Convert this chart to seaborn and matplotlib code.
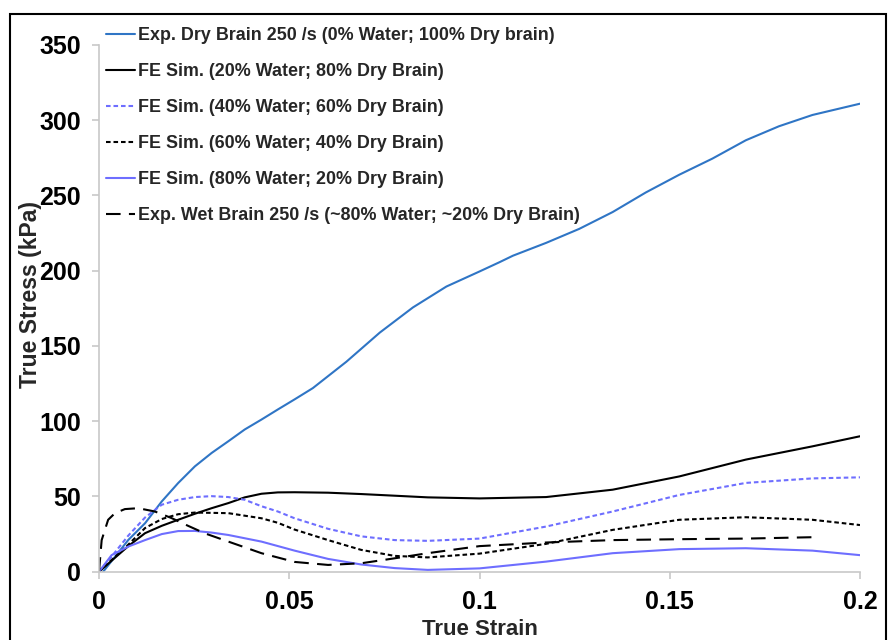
import matplotlib
matplotlib.use("Agg")
import matplotlib.pyplot as plt
import seaborn as sns
import pandas as pd
from matplotlib.patches import Rectangle

# Stress-strain curves (true strain, true stress in kPa)
dry_exp_strain = [0.0011, 0.0077, 0.0121, 0.0165, 0.0208, 0.0252, 0.0296, 0.034, 0.0383,
                  0.0427, 0.047, 0.0514, 0.0562, 0.065, 0.0738, 0.0825, 0.0913, 0.1,
                  0.1052, 0.1088, 0.1175, 0.1262, 0.135, 0.1437, 0.1525, 0.1612, 0.17,
                  0.1787, 0.1875, 0.2]
dry_exp_stress = [0, 21.1, 32.2, 46.7, 58.9, 70, 78.9, 86.7, 94.5,
                  101.1, 107.8, 114.5, 122, 139.5, 158.9, 175.6, 189.5, 199.5,
                  205.6, 210, 218.5, 227.8, 239, 252, 263.8, 274.5, 286.7,
                  296, 303.5, 311]

sim20_strain = [0, 0.0077, 0.0121, 0.0165, 0.0208, 0.0252, 0.0296, 0.034, 0.0383, 0.0427,
                0.047, 0.0514, 0.0602, 0.0689, 0.0777, 0.0864, 0.1, 0.1175, 0.135,
                0.1525, 0.17, 0.1875, 0.2]
sim20_stress = [0, 17, 25.6, 30.5, 34.5, 38.5, 42.2, 45.6, 49.4, 51.8,
                52.7, 52.8, 52.5, 51.6, 50.5, 49.4, 48.7, 49.6, 54.5,
                63.3, 74.5, 83.3, 90]

sim40_strain = [0, 0.0033, 0.0077, 0.0121, 0.0165, 0.0208, 0.0252, 0.0296, 0.034, 0.0383,
                0.0427, 0.047, 0.0514, 0.0602, 0.0689, 0.0777, 0.0864, 0.1, 0.1175,
                0.135, 0.1525, 0.17, 0.1875, 0.2]
sim40_stress = [0, 10, 24, 36, 44.5, 47.8, 49.6, 50.2, 49.6, 47.8,
                43.5, 40, 35.5, 28.5, 23.5, 21, 20.5, 22, 30,
                40, 51, 59, 62, 62.7]

sim60_strain = [0, 0.0077, 0.0121, 0.0165, 0.0208, 0.0252, 0.034, 0.0427, 0.047, 0.0514,
                0.0602, 0.0689, 0.0777, 0.0864, 0.1, 0.1175, 0.135, 0.1525, 0.17,
                0.1875, 0.2]
sim60_stress = [0, 18, 29, 35, 38.2, 39.3, 38.9, 35.5, 32.5, 28,
                21, 14.5, 10.5, 9.5, 12, 18.5, 27.8, 34.5, 36.2,
                34.5, 31]

sim80_strain = [0, 0.0033, 0.0077, 0.0121, 0.0165, 0.0208, 0.0252, 0.0296, 0.034, 0.0427,
                0.0514, 0.0602, 0.0689, 0.0777, 0.0864, 0.1, 0.1175, 0.135, 0.1525,
                0.17, 0.1875, 0.2]
sim80_stress = [0, 11, 16.7, 21, 25, 27, 27.1, 26, 24.4, 20,
                14, 8.5, 4.8, 2.4, 1.2, 2.2, 6.7, 12.3, 15,
                15.6, 14, 11]

wet_exp_strain = [0, 0.0007, 0.0024, 0.0042, 0.0068, 0.0103, 0.0147, 0.0191, 0.0234,
                  0.0278, 0.034, 0.0427, 0.0514, 0.0602, 0.0689, 0.0777, 0.0864, 0.1,
                  0.1175, 0.135, 0.1525, 0.17, 0.189]
wet_exp_stress = [0, 21, 34.5, 38.9, 41.6, 42.2, 40, 35.6, 30.5,
                  25.5, 20, 12.3, 6.5, 4.5, 5.6, 8.9, 12.3, 17,
                  19.4, 21, 21.6, 22, 23]

series_labels = [
    "Exp. Dry Brain 250 /s (0% Water; 100% Dry brain)",
    "FE Sim. (20% Water; 80% Dry Brain)",
    "FE Sim. (40% Water; 60% Dry Brain)",
    "FE Sim. (60% Water; 40% Dry Brain)",
    "FE Sim. (80% Water; 20% Dry Brain)",
    "Exp. Wet Brain 250 /s (~80% Water; ~20% Dry Brain)",
]
x_ticks = [0, 0.05, 0.1, 0.15, 0.2]
x_tick_labels = ["0", "0.05", "0.1", "0.15", "0.2"]
y_ticks = [0, 50, 100, 150, 200, 250, 300, 350]

sns.set_theme(style="white")
plt.rcParams["font.family"] = ["Liberation Sans", "DejaVu Sans"]
plt.rcParams["font.weight"] = "bold"

fig = plt.figure(figsize=(8.9, 6.4), dpi=100)
ax = fig.add_axes([99 / 890, 68.3 / 640, 761 / 890, 526.7 / 640])

data = [
    (dry_exp_strain, dry_exp_stress, "#2F75C5", None),
    (sim20_strain, sim20_stress, "#000000", None),
    (sim40_strain, sim40_stress, "#6E6EFF", (2.2, 1.4)),
    (sim60_strain, sim60_stress, "#000000", (2.2, 1.4)),
    (sim80_strain, sim80_stress, "#6E6EFF", None),
    (wet_exp_strain, wet_exp_stress, "#000000", (7, 4)),
]

for (xs, ys, color, dash), label in zip(data, series_labels):
    df = pd.DataFrame({"strain": xs, "stress": ys})
    sns.lineplot(data=df, x="strain", y="stress", ax=ax, color=color,
                 linewidth=1.5, sort=False, estimator=None, label=label)
    line = ax.get_lines()[-1]
    line.set_solid_joinstyle("round")
    if dash is not None:
        line.set_dashes(dash)

ax.set_xlim(0, 0.2)
ax.set_ylim(0, 350)
ax.set_xticks(x_ticks)
ax.set_xticklabels(x_tick_labels)
ax.set_yticks(y_ticks)

for side in ("top", "right"):
    ax.spines[side].set_visible(False)
for side in ("left", "bottom"):
    ax.spines[side].set_color("#C8C8C8")
    ax.spines[side].set_linewidth(1.2)

ax.tick_params(axis="both", which="major", direction="out", length=5, width=1.2,
               color="#C8C8C8", labelsize=18, labelcolor="#000000", pad=8,
               left=True, bottom=True)
for lbl in ax.get_xticklabels() + ax.get_yticklabels():
    lbl.set_fontweight("bold")

ax.set_xlabel("True Strain", fontsize=16, fontweight="bold", labelpad=4)
ax.set_ylabel("True Stress (kPa)", fontsize=16.5, fontweight="bold")
ax.yaxis.set_label_coords(-0.075, 0.527)

leg = ax.legend(loc="upper left", bbox_to_anchor=(106 / 890, 1 - 27 / 640),
                bbox_transform=fig.transFigure, frameon=False,
                prop={"size": 12.9, "weight": "bold"}, handlelength=1.6,
                handletextpad=0.17, labelspacing=1.06, borderpad=0, borderaxespad=0)

# outer frame around the figure
fig.patches.append(Rectangle((10 / 890, -0.01), 876 / 890, 1 - 14 / 640 + 0.01,
                             transform=fig.transFigure, fill=False,
                             edgecolor="black", linewidth=1.5))

fig.savefig("out.png", dpi=100)
